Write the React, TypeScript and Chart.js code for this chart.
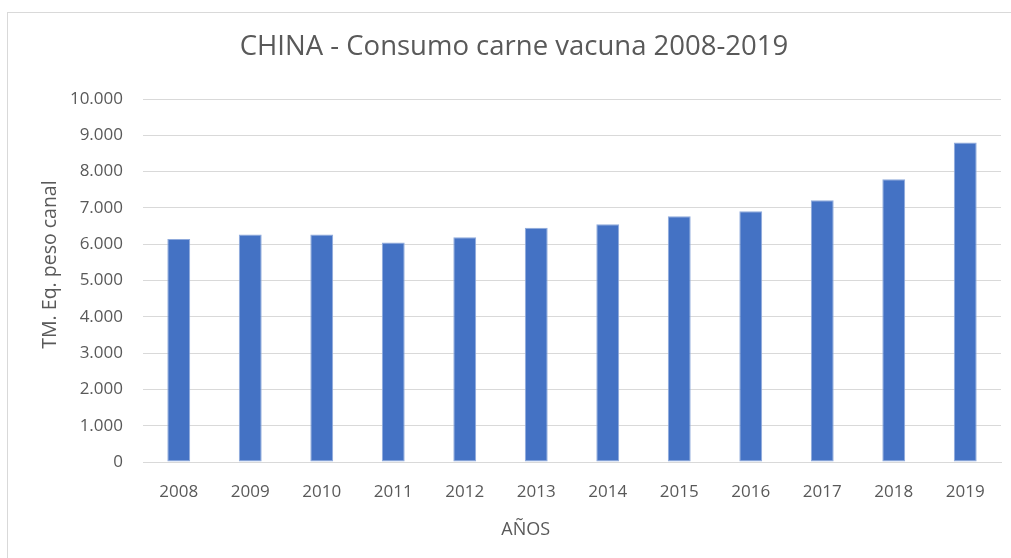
import React, { useEffect, useRef } from "react";
import { Chart, registerables } from "chart.js";

Chart.register(...registerables);

const years = ["2008", "2009", "2010", "2011", "2012", "2013", "2014", "2015", "2016", "2017", "2018", "2019"];
const consumo = [6140, 6270, 6270, 6050, 6190, 6455, 6550, 6770, 6905, 7210, 7790, 8805];
const yTicks = [0, 1000, 2000, 3000, 4000, 5000, 6000, 7000, 8000, 9000, 10000];
const titleText = "CHINA - Consumo carne vacuna 2008-2019";
const xTitle = "AÑOS";
const yTitle = "TM. Eq. peso canal";

const FONT = "'Open Sans', 'DejaVu Sans', sans-serif";
const TEXT = "#595959";

const fmt = (v: number) => v.toLocaleString("de-DE");

const axisTitlePlugin = {
  id: "axisTitlesCustom",
  afterDraw(chart: any) {
    const ctx = chart.ctx;
    const a = chart.chartArea;
    ctx.save();
    ctx.fillStyle = TEXT;
    ctx.textAlign = "center";
    ctx.textBaseline = "middle";
    ctx.font = `18px ${FONT}`;
    ctx.fillText(xTitle, a.left + (a.right - a.left) * 0.446, a.bottom + 68);
    ctx.font = `19.5px ${FONT}`;
    ctx.translate(a.left - 93, a.top + (a.bottom - a.top) * 0.456);
    ctx.rotate(-Math.PI / 2);
    ctx.fillText(yTitle, 0, 0);
    ctx.restore();
  },
};

export default function App() {
  const ref = useRef<HTMLCanvasElement | null>(null);
  useEffect(() => {
    document.body.style.margin = "0";
    if (!ref.current) return;
    const chart = new Chart(ref.current, {
      type: "bar",
      data: {
        labels: years,
        datasets: [
          {
            data: consumo,
            backgroundColor: "#4472C4",
            borderColor: "#8FAADC",
            borderWidth: 1,
            borderSkipped: false,
            categoryPercentage: 1,
            barPercentage: 0.32,
          },
        ],
      },
      options: {
        animation: false,
        responsive: false,
        maintainAspectRatio: false,
        layout: { padding: { left: 27, right: 10, top: 0, bottom: 0 } },
        plugins: {
          legend: { display: false },
          tooltip: { enabled: false },
          title: {
            display: true,
            text: titleText,
            color: TEXT,
            font: { family: FONT, size: 27.5, weight: "normal" },
            padding: { top: 31, bottom: 35 },
          },
        },
        scales: {
          x: {
            grid: { display: false, drawTicks: false },
            border: { display: true, color: "#D9D9D9", width: 1 },
            ticks: { color: TEXT, font: { family: FONT, size: 17 }, padding: 20, maxRotation: 0 },
            afterFit(scale: any) {
              scale.height = 96;
            },
          },
          y: {
            min: 0,
            max: 10000,
            afterBuildTicks(scale: any) {
              scale.ticks = yTicks.map((v) => ({ value: v }));
            },
            grid: { color: "#D9D9D9", lineWidth: 1, drawTicks: false },
            border: { display: false },
            ticks: {
              color: TEXT,
              font: { family: FONT, size: 17 },
              padding: 20,
              callback: (v: any) => fmt(Number(v)),
            },
            afterFit(scale: any) {
              scale.width = 116;
            },
          },
        },
      },
      plugins: [axisTitlePlugin],
    });
    return () => chart.destroy();
  }, []);

  return (
    <div style={{ position: "absolute", left: 0, top: 0, width: 1011, height: 558, overflow: "hidden", background: "#fff" }}>
      <div
        style={{
          position: "absolute",
          left: 7,
          top: 12,
          width: 1040,
          height: 600,
          border: "1px solid #D9D9D9",
          boxSizing: "border-box",
        }}
      />
      <canvas ref={ref} width={1011} height={558} style={{ position: "absolute", left: 0, top: 0, width: 1011, height: 558 }} />
    </div>
  );
}
